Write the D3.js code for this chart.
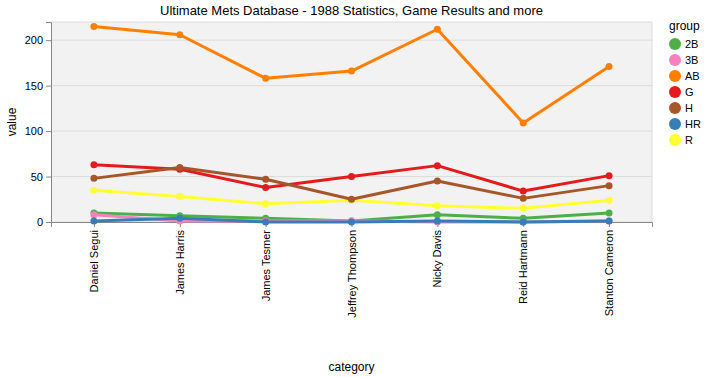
<!DOCTYPE html>
<html><head><meta charset="utf-8">
<script src="https://cdn.jsdelivr.net/npm/d3@7"></script>
<style>body{margin:0;background:#fff;font-family:"Liberation Sans",Arial,sans-serif;}</style>
</head><body><svg id="c" width="718" height="377"></svg>
<script>
const categories = ["Daniel Segui","James Harris","James Tesmer","Jeffrey Thompson","Nicky Davis","Reid Hartmann","Stanton Cameron"];
const groups = ["2B","3B","AB","G","H","HR","R"];
const colors = ["#4daf4a","#f781bf","#ff7f00","#e41a1c","#a65628","#377eb8","#ffff33"];
const v2B = [10,7,4,1,8,4,10];
const v3B = [8,1,1,1,0,0,1];
const vAB = [215,206,158,166,212,109,171];
const vG  = [63,58,38,50,62,34,51];
const vH  = [48,60,47,25,45,26,40];
const vHR = [1,4,0,0,1,0,1];
const vR  = [35,28,20,24,18,15,24];
const yTicks = [0,50,100,150,200];
const seriesValues = {"2B":v2B,"3B":v3B,"AB":vAB,"G":vG,"H":vH,"HR":vHR,"R":vR};
const drawOrder = ["R","2B","3B","HR","AB","G","H"];

const svg = d3.select("#c");
const m = {l:51, r:652, t:22, b:222};
const x = d3.scalePoint().domain(categories).range([m.l, m.r]).padding(0.5);
const y = d3.scaleLinear().domain([0,220]).range([m.b, m.t]);
const color = d3.scaleOrdinal().domain(groups).range(colors);

svg.append("rect").attr("x",m.l).attr("y",m.t).attr("width",m.r-m.l).attr("height",m.b-m.t).attr("fill","#f2f2f2");
svg.append("g").selectAll("line").data(yTicks).join("line")
  .attr("x1",m.l).attr("x2",m.r).attr("y1",d=>y(d)).attr("y2",d=>y(d)).attr("stroke","#dcdcdc").attr("stroke-width",1);
svg.append("path").attr("d",`M${m.l},${m.t}H${m.r}V${m.b}`).attr("fill","none").attr("stroke","#dcdcdc");

const yAxis = svg.append("g").attr("transform",`translate(${m.l},0)`).call(d3.axisLeft(y).tickValues(yTicks).tickSize(5).tickPadding(3));
const xAxis = svg.append("g").attr("transform",`translate(0,${m.b})`).call(d3.axisBottom(x).tickSize(5));
[yAxis,xAxis].forEach(a=>{a.select(".domain").attr("stroke","#888");a.selectAll(".tick line").attr("stroke","#888");
  a.selectAll("text").attr("font-family","Liberation Sans, Arial, sans-serif").attr("font-size",11).attr("fill","#000");});
xAxis.selectAll("text").attr("transform","rotate(-90)").attr("text-anchor","end").attr("x",-8).attr("y",0).attr("dy","0.32em");

const line = d3.line().x((d,i)=>x(categories[i])).y(d=>y(d));
drawOrder.forEach(g=>{
  const vals = seriesValues[g];
  const gg = svg.append("g");
  gg.append("path").datum(vals).attr("d",line).attr("fill","none").attr("stroke",color(g)).attr("stroke-width",3).attr("stroke-linejoin","round");
  gg.selectAll("circle").data(vals).join("circle").attr("cx",(d,i)=>x(categories[i])).attr("cy",d=>y(d)).attr("r",3.5).attr("fill",color(g));
});

svg.append("text").attr("x",(m.l+m.r)/2).attr("y",15).attr("text-anchor","middle").attr("font-size",13).attr("fill","#000")
  .text("Ultimate Mets Database - 1988 Statistics, Game Results and more");
svg.append("text").attr("transform",`translate(16,${(m.t+m.b)/2}) rotate(-90)`).attr("text-anchor","middle").attr("font-size",12).text("value");
svg.append("text").attr("x",(m.l+m.r)/2).attr("y",371).attr("text-anchor","middle").attr("font-size",12).text("category");

const lg = svg.append("g");
lg.append("text").attr("x",669).attr("y",30).attr("font-size",12).text("group");
groups.forEach((g,i)=>{
  lg.append("circle").attr("cx",675).attr("cy",44+i*16).attr("r",6).attr("fill",color(g));
  lg.append("text").attr("x",685).attr("y",44+i*16).attr("dy","0.35em").attr("font-size",11).text(g);
});
</script></body></html>
